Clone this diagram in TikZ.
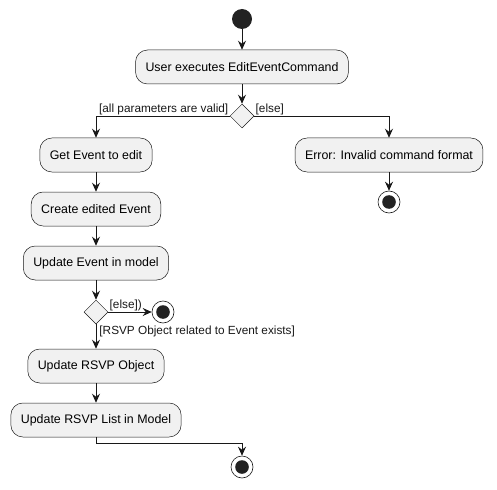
\documentclass[tikz,border=0pt]{standalone}
\usepackage{fontspec}
\setmainfont{Liberation Sans}
\usepackage{xcolor}
\usepackage{tikz}
\usetikzlibrary{arrows.meta, shapes.geometric}

\definecolor{actfill}{HTML}{F1F1F1}
\definecolor{umlline}{HTML}{181818}
\definecolor{dotfill}{HTML}{222222}

\begin{document}
\begin{tikzpicture}[x=1pt, y=-1pt, >={Stealth[length=9pt, width=8pt, inset=3pt]},
    font=\fontsize{12.4}{14.8}\selectfont,
    action/.style={draw=umlline, line width=0.5pt, fill=actfill, rounded corners=12pt,
        minimum height=34pt, inner xsep=10pt, inner ysep=0pt},
    decision/.style={diamond, draw=umlline, line width=0.5pt, fill=actfill, inner sep=0pt,
        minimum width=24pt, minimum height=24pt},
    startdot/.style={circle, fill=dotfill, inner sep=0pt, minimum size=20pt},
    enddot/.style={circle, draw=umlline, line width=0.6pt, fill=white, inner sep=0pt, minimum size=22pt,
        path picture={\fill[dotfill] (path picture bounding box.center) circle (6.8pt);}},
    guard/.style={font=\fontsize{11.8}{14}\selectfont, inner sep=1pt},
    flow/.style={->, umlline, line width=0.9pt}]

    \useasboundingbox (0,0) rectangle (497,489);

    % --- Start und erste Aktion ---
    \node[startdot] (start) at (242,19) {};
    \node[action] (exec) at (242,67) {User executes EditEventCommand};
    \node[decision] (checkvalid) at (242,116) {};

    \draw[flow] (start) -- (exec);
    \draw[flow] (exec) -- (checkvalid);

    % --- linker Zweig ---
    \node[action] (getevent) at (96,155) {Get Event to edit};
    \node[action] (createedited) at (96,209) {Create edited Event};
    \node[action] (updatemodel) at (96,263) {Update Event in model};
    \node[decision] (checkrsvp) at (96,312) {};
    \node[enddot] (stoprsvp) at (163,312) {};
    \node[action] (updatersvp) at (96,366) {Update RSVP Object};
    \node[action] (updatelist) at (96,420) {Update RSVP List in Model};
    \node[enddot] (stopmain) at (242,467) {};

    \draw[flow] (checkvalid.west) -| (getevent)
        node[guard, pos=0, anchor=south east] {[all parameters are valid]};
    \draw[flow] (getevent) -- (createedited);
    \draw[flow] (createedited) -- (updatemodel);
    \draw[flow] (updatemodel) -- (checkrsvp);
    \draw[flow] (checkrsvp.east) -- (stoprsvp)
        node[guard, pos=0, anchor=south west] {[else])};
    \draw[flow] (checkrsvp.south) -- (updatersvp)
        node[guard, pos=0, anchor=north west, xshift=2pt] {[RSVP Object related to Event exists]};
    \draw[flow] (updatersvp) -- (updatelist);
    \draw[flow] (updatelist.south) -- ++(0,6) -| (stopmain);

    % --- rechter Zweig (Fehler) ---
    \node[action] (error) at (389,155) {Error: Invalid command format};
    \node[enddot] (stoperror) at (389,202) {};

    \draw[flow] (checkvalid.east) -| (error)
        node[guard, pos=0, anchor=south west] {[else]};
    \draw[flow] (error) -- (stoperror);

\end{tikzpicture}
\end{document}
